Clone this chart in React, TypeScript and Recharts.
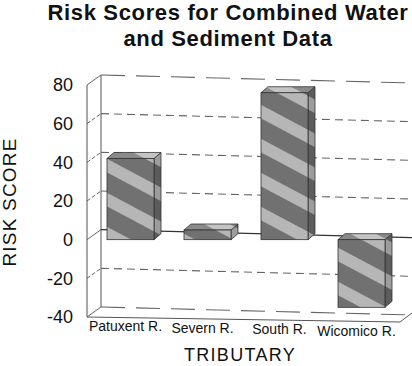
import React from "react";
import { BarChart, Bar, XAxis, YAxis, CartesianGrid } from "recharts";

const TRIBUTARIES = ["Patuxent R.", "Severn R.", "South R.", "Wicomico R."];
const RISK_SCORES = [42, 5, 76, -35];
const Y_TICKS = [-40, -20, 0, 20, 40, 60, 80];

const data = TRIBUTARIES.map((name, i) => ({ name, score: RISK_SCORES[i] }));

const FONT = "Arial, 'Liberation Sans', Helvetica, sans-serif";

// fake 3D offsets (back wall and bar depth)
const WALL_DX = 14;
const WALL_DY = -10;
const BAR_DX = 7;
const BAR_DY = -6;

const gridLine = (props: any) => {
  const { x1, x2, y1, index } = props;
  const top = props.y ?? 85;
  const h = props.height ?? 232;
  const yMin = Y_TICKS[0];
  const yMax = Y_TICKS[Y_TICKS.length - 1];
  const v = Math.round((yMax - ((y1 - top) / h) * (yMax - yMin)) / 20) * 20;
  const bx = x1 + WALL_DX;
  const by = y1 + WALL_DY;
  const ex = x2 + 7;
  const ey = y1 - 2;
  const edge = v === yMax || v === yMin;
  return (
    <g key={`grid-${index}`}>
      <line x1={x1} y1={y1} x2={bx} y2={by} stroke="#666" strokeDasharray={edge || v === 0 ? undefined : "4 2"} />
      <line
        x1={bx}
        y1={by}
        x2={ex}
        y2={ey}
        stroke={v === 0 ? "#333" : "#666"}
        strokeWidth={1.1}
        strokeDasharray={v === 0 ? undefined : edge ? "24 11" : "8 5"}
      />
      {v === yMin && (
        <g>
          <line x1={bx} y1={top + WALL_DY} x2={bx} y2={by} stroke="#555" />
          <path
            d={`M${x1},${y1} L${x2 - 5},${y1 + 5} L${x2 + 7},${y1 - 4}`}
            fill="none"
            stroke="#555"
          />
        </g>
      )}
    </g>
  );
};

const Bar3D = (props: any) => {
  const { x, y, width, height } = props;
  const top = Math.min(y, y + height);
  const h = Math.abs(height);
  const r = x + width;
  return (
    <g>
      <path
        d={`M${r},${top} L${r + BAR_DX},${top + BAR_DY} L${r + BAR_DX},${top + h + BAR_DY} L${r},${top + h} Z`}
        fill="url(#stripesSide)"
        stroke="#333"
        strokeWidth={0.8}
      />
      <path
        d={`M${x},${top} L${x + BAR_DX},${top + BAR_DY} L${r + BAR_DX},${top + BAR_DY} L${r},${top} Z`}
        fill="url(#stripesTop)"
        stroke="#333"
        strokeWidth={0.8}
      />
      <rect x={x} y={top} width={width} height={h} fill="url(#stripes)" stroke="#333" strokeWidth={0.8} />
    </g>
  );
};

const XTick = (props: any) => {
  const { x, y, payload, index } = props;
  return (
    <text
      x={x - 5}
      y={y + 14 + (index || 0) * 1.5}
      textAnchor="middle"
      fontSize={14}
      fontFamily={FONT}
      fill="#111"
    >
      {payload.value}
    </text>
  );
};

const stripePattern = (id: string, dark: string, light: string) => (
  <pattern id={id} patternUnits="userSpaceOnUse" width={60} height={30} patternTransform="rotate(28)">
    <rect width={60} height={30} fill={dark} />
    <rect width={60} height={12} fill={light} />
  </pattern>
);

export default function App() {
  return (
    <div
      style={{
        position: "absolute",
        left: 0,
        top: 0,
        width: 412,
        height: 366,
        background: "#fff",
        fontFamily: FONT,
        color: "#111",
      }}
    >
      <div
        style={{
          position: "absolute",
          left: 44,
          top: 0,
          width: 368,
          textAlign: "center",
          fontWeight: "bold",
          fontSize: 22,
          lineHeight: "26px",
          letterSpacing: 0.65,
        }}
      >
        Risk Scores for Combined Water
        <br />
        and Sediment Data
      </div>
      <div
        style={{
          position: "absolute",
          left: 10 - 65,
          top: 202 - 12,
          width: 130,
          height: 24,
          lineHeight: "24px",
          textAlign: "center",
          fontSize: 19,
          letterSpacing: 1.2,
          transform: "rotate(-90deg)",
          whiteSpace: "nowrap",
        }}
      >
        RISK SCORE
      </div>
      <div
        style={{
          position: "absolute",
          left: 140,
          top: 346,
          width: 200,
          lineHeight: "18px",
          textAlign: "center",
          fontSize: 18,
          letterSpacing: 1.3,
        }}
      >
        TRIBUTARY
      </div>
      <BarChart
        width={412}
        height={366}
        data={data}
        margin={{ top: 85, right: 7, bottom: 0, left: 0 }}
        barSize={47}
      >
        <defs>
          {stripePattern("stripes", "#717171", "#b6b6b6")}
          {stripePattern("stripesSide", "#5c5c5c", "#9c9c9c")}
          {stripePattern("stripesTop", "#8a8a8a", "#c4c4c4")}
        </defs>
        <CartesianGrid vertical={false} horizontal={gridLine} />
        <XAxis
          dataKey="name"
          height={49}
          axisLine={false}
          tickLine={false}
          tickSize={0}
          tickMargin={0}
          padding={{ left: 5, right: 5 }}
          tick={<XTick />}
          interval={0}
        />
        <YAxis
          width={87}
          domain={[-40, 80]}
          ticks={Y_TICKS}
          interval={0}
          tickLine={false}
          tickSize={0}
          tickMargin={14}
          axisLine={{ stroke: "#555" }}
          tick={{ fontSize: 18, fontFamily: FONT, fill: "#111" }}
        />
        <Bar dataKey="score" shape={<Bar3D />} isAnimationActive={false} />
      </BarChart>
    </div>
  );
}
